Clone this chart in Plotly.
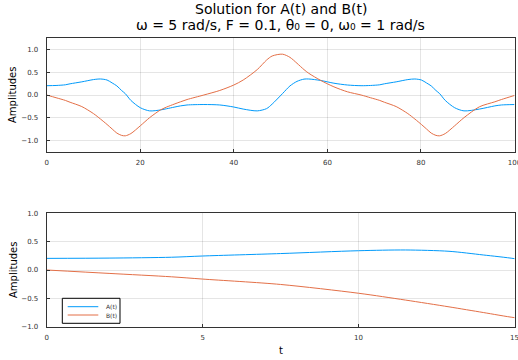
import plotly.graph_objects as go

t_vals = [0, 2, 4, 5, 7.5, 10, 11.5, 12.9, 14, 15, 16, 16.8, 18, 20, 22, 24.3, 25.3, 28.6, 30, 33.6,
          37, 40, 42, 45, 47, 48.2, 50.4, 52, 53.5, 55, 56, 58.6, 61.4, 64.3, 67.2,
          69.2, 71.2, 72.2, 74.7, 77.2, 78.7, 80.1, 81.2, 82.2, 83.2, 84, 85.2, 87.2, 89.2,
          92.5, 95.8, 97.2, 100]
a_vals = [0.205, 0.21, 0.225, 0.247, 0.29, 0.34, 0.353, 0.33, 0.265, 0.2, 0.1, 0.03, -0.12, -0.28, -0.35, -0.33, -0.31, -0.24, -0.22, -0.21,
          -0.22, -0.265, -0.31, -0.35, -0.3, -0.2, 0.03, 0.2, 0.3, 0.35, 0.353, 0.32, 0.26, 0.22, 0.205,
          0.21, 0.225, 0.247, 0.29, 0.34, 0.353, 0.33, 0.265, 0.2, 0.1, 0.03, -0.12, -0.28, -0.35,
          -0.31, -0.24, -0.22, -0.21]
b_vals = [0.0, -0.06, -0.12, -0.16, -0.255, -0.41, -0.53, -0.65, -0.75, -0.84, -0.89, -0.9, -0.85, -0.68, -0.5, -0.33, -0.28, -0.15, -0.1, 0.0,
          0.1, 0.22, 0.33, 0.56, 0.77, 0.86, 0.9, 0.83, 0.7, 0.56, 0.48, 0.32, 0.18, 0.07, 0.0,
          -0.06, -0.12, -0.16, -0.255, -0.41, -0.53, -0.65, -0.75, -0.84, -0.89, -0.9, -0.85, -0.68, -0.5,
          -0.26, -0.15, -0.1, -0.01]

series_names = ["A(t)", "B(t)"]
colors = ["#009AFA", "#E36F47"]
title_lines = ["Solution for A(t) and B(t)", "ω = 5 rad/s, F = 0.1, θ₀ = 0, ω₀ = 1 rad/s"]
top_xticks = [0, 20, 40, 60, 80, 100]
top_yticks = [-1.0, -0.5, 0.0, 0.5, 1.0]
bot_xticks = [0, 5, 10, 15]
bot_yticks = [-1.0, -0.5, 0.0, 0.5, 1.0]

W, H = 518, 360
FONT = "DejaVu Sans"
fig = go.Figure()
for name, ys, c in zip(series_names, [a_vals, b_vals], colors):
    fig.add_trace(go.Scatter(x=t_vals, y=ys, mode="lines", name=name, showlegend=False,
                             line=dict(color=c, width=1, shape="spline", smoothing=0.8),
                             xaxis="x", yaxis="y"))
for name, ys, c in zip(series_names, [a_vals, b_vals], colors):
    fig.add_trace(go.Scatter(x=t_vals, y=ys, mode="lines", name=name, showlegend=False,
                             line=dict(color=c, width=1, shape="spline", smoothing=0.8),
                             xaxis="x2", yaxis="y2"))

xd = [46.7 / W, 514.5 / W]
ax_common = dict(showline=True, mirror=True, linecolor="#333333", linewidth=1,
                 ticks="inside", ticklen=3, tickcolor="#333333",
                 showgrid=True, gridcolor="rgba(0,0,0,0.1)", gridwidth=1,
                 zeroline=False, ticklabeloverflow="allow", automargin=False,
                 tickfont=dict(family=FONT, size=7, color="#333333"))
fig.update_layout(
    width=W, height=H,
    margin=dict(l=0, r=0, t=0, b=0, autoexpand=False),
    paper_bgcolor="white", plot_bgcolor="white",
    font=dict(family=FONT),
    showlegend=False,
    xaxis=dict(domain=xd, range=[0, 100], tickvals=top_xticks, anchor="y",
               ticklabelstandoff=4, **ax_common),
    yaxis=dict(domain=[1 - 151.7 / H, 1 - 38.3 / H], range=[-1.25, 1.25], tickvals=top_yticks,
               tickformat=".1f", anchor="x", ticklabelstandoff=6, **ax_common),
    xaxis2=dict(domain=xd, range=[0, 15], tickvals=bot_xticks, anchor="y2",
                ticklabelstandoff=4, **ax_common),
    yaxis2=dict(domain=[1 - 326.7 / H, 1 - 213.3 / H], range=[-1, 1], tickvals=bot_yticks,
                tickformat=".1f", anchor="x2", ticklabelstandoff=6, **ax_common),
)
cx = (xd[0] + xd[1]) / 2
fig.add_annotation(text=title_lines[0], x=cx, y=1 - 9 / H, xref="paper", yref="paper",
                   showarrow=False, font=dict(family=FONT, size=14, color="black"),
                   xanchor="center", yanchor="middle")
fig.add_annotation(text=title_lines[1], x=cx, y=1 - 25.5 / H, xref="paper", yref="paper",
                   showarrow=False, font=dict(family=FONT, size=14, color="black"),
                   xanchor="center", yanchor="middle")
for yc in (95, 270):
    fig.add_annotation(text="Amplitudes", x=13 / W, y=1 - yc / H, xref="paper", yref="paper",
                       showarrow=False, textangle=-90, xanchor="center", yanchor="middle",
                       font=dict(family=FONT, size=10, color="black"))
fig.add_annotation(text="t", x=cx, y=1 - 350 / H, xref="paper", yref="paper",
                   showarrow=False, xanchor="center", yanchor="middle",
                   font=dict(family=FONT, size=10, color="black"))

# legend drawn inside the lower panel
fig.add_shape(type="rect", xref="paper", yref="paper",
              x0=62.3 / W, x1=120 / W, y0=1 - 323.3 / H, y1=1 - 298.3 / H,
              line=dict(color="black", width=1), fillcolor="white", layer="above")
for i, (name, c) in enumerate(zip(series_names, colors)):
    yy = 1 - (306.7 + 8.3 * i) / H
    fig.add_shape(type="line", xref="paper", yref="paper",
                  x0=67.7 / W, x1=98.3 / W, y0=yy, y1=yy,
                  line=dict(color=c, width=1), layer="above")
    fig.add_annotation(text=name, x=103.5 / W, y=yy, xref="paper", yref="paper",
                       showarrow=False, xanchor="left", yanchor="middle",
                       font=dict(family=FONT, size=6, color="#333333"))
fig.write_html("out.html")
